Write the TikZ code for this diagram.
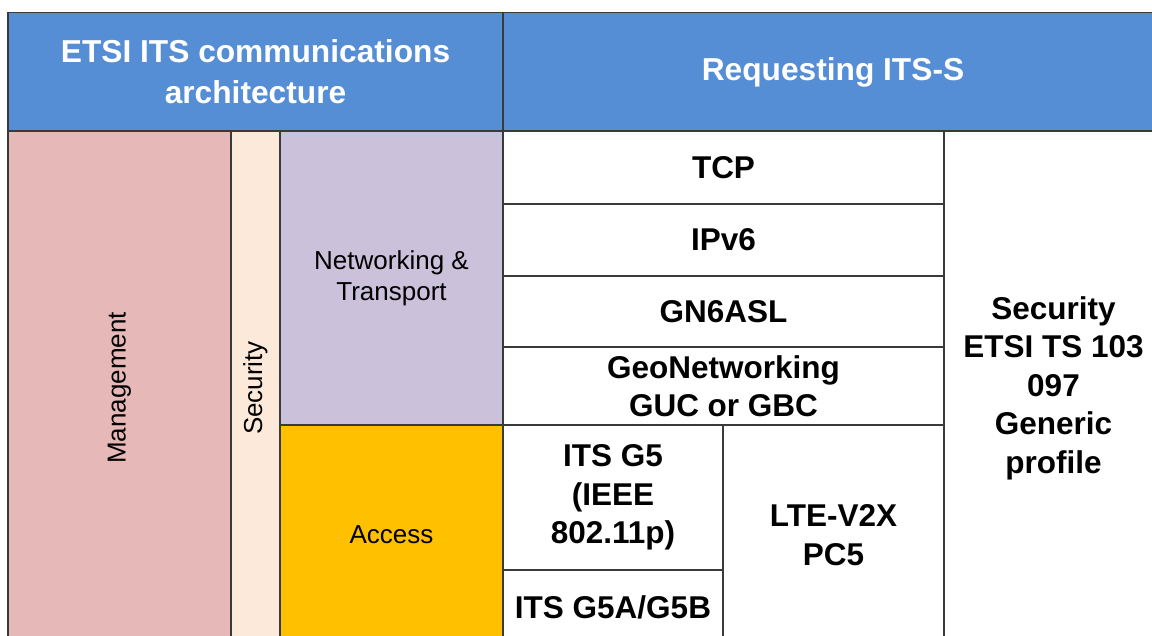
\documentclass[tikz,border=0pt]{standalone}
\usepackage{fontspec}
\setmainfont{Liberation Sans}
\definecolor{hdrblue}{HTML}{558ED5}
\definecolor{mgmtpink}{HTML}{E6B9B8}
\definecolor{secpeach}{HTML}{FCE9DA}
\definecolor{netlav}{HTML}{CCC1DA}
\definecolor{accyel}{HTML}{FFC000}
\definecolor{edge}{HTML}{3A3A3A}
\tikzset{
  cellbox/.style={draw=edge, line width=1.6pt, rectangle, inner sep=0pt, outer sep=0pt, align=center},
  hdrtext/.style={text=white, font=\fontsize{31.7}{41}\selectfont\bfseries},
  boldtext/.style={text=black, font=\fontsize{31.5}{38.5}\selectfont\bfseries},
  regtext/.style={text=black, font=\fontsize{26}{31}\selectfont},
}
\begin{document}
\begin{tikzpicture}[x=1pt,y=-1pt]
\useasboundingbox (0,0) rectangle (1152,636);
\fill[white] (0,0) rectangle (1152,636);
\clip (0,0) rectangle (1152,636);
% header
\node[cellbox, fill=hdrblue, hdrtext, minimum width=495pt, minimum height=119pt] (hdrL) at (255.5,72) {ETSI ITS communications\\architecture};
\node[cellbox, fill=hdrblue, hdrtext, minimum width=660pt, minimum height=119pt] (hdrR) at (833,72) {Requesting ITS-S};
% left architecture columns
\node[cellbox, fill=mgmtpink, minimum width=223pt, minimum height=514pt] (mgmt) at (119.5,388) {};
\node[regtext, rotate=90] (mgmtlbl) at (mgmt.center) {Management};
\node[cellbox, fill=secpeach, minimum width=49pt, minimum height=514pt] (sec) at (255.5,388) {};
\node[regtext, rotate=90] (seclbl) at (sec.center) {Security};
\node[cellbox, fill=netlav, regtext, minimum width=223pt, minimum height=294pt] (net) at (391.5,278) {Networking \&\\Transport};
\node[cellbox, fill=accyel, regtext, minimum width=223pt, minimum height=220pt] (acc) at (391.5,535) {Access};
% protocol stack
\node[cellbox, fill=white, boldtext, minimum width=441pt, minimum height=73pt] (tcp) at (723.5,167.5) {TCP};
\node[cellbox, fill=white, boldtext, minimum width=441pt, minimum height=72pt] (ipv6) at (723.5,240) {IPv6};
\node[cellbox, fill=white, boldtext, minimum width=441pt, minimum height=71pt] (gn6) at (723.5,311.5) {GN6ASL};
\node[cellbox, fill=white, boldtext, minimum width=441pt, minimum height=78pt] (geo) at (723.5,386) {GeoNetworking\\GUC or GBC};
\node[cellbox, fill=white, boldtext, minimum width=220pt, minimum height=145pt] (g5) at (613,497.5) {ITS G5\\(IEEE\\802.11p)};
\node[cellbox, fill=white, boldtext, minimum width=220pt, minimum height=75pt] (g5ab) at (613,607.5) {ITS G5A/G5B};
\node[cellbox, fill=white, boldtext, minimum width=221pt, minimum height=220pt] (lte) at (833.5,535) {LTE-V2X\\PC5};
\node[cellbox, fill=white, boldtext, minimum width=219pt, minimum height=514pt] (secp) at (1053.5,388) {Security\\ETSI TS 103\\097\\Generic\\profile};
\end{tikzpicture}
\end{document}
